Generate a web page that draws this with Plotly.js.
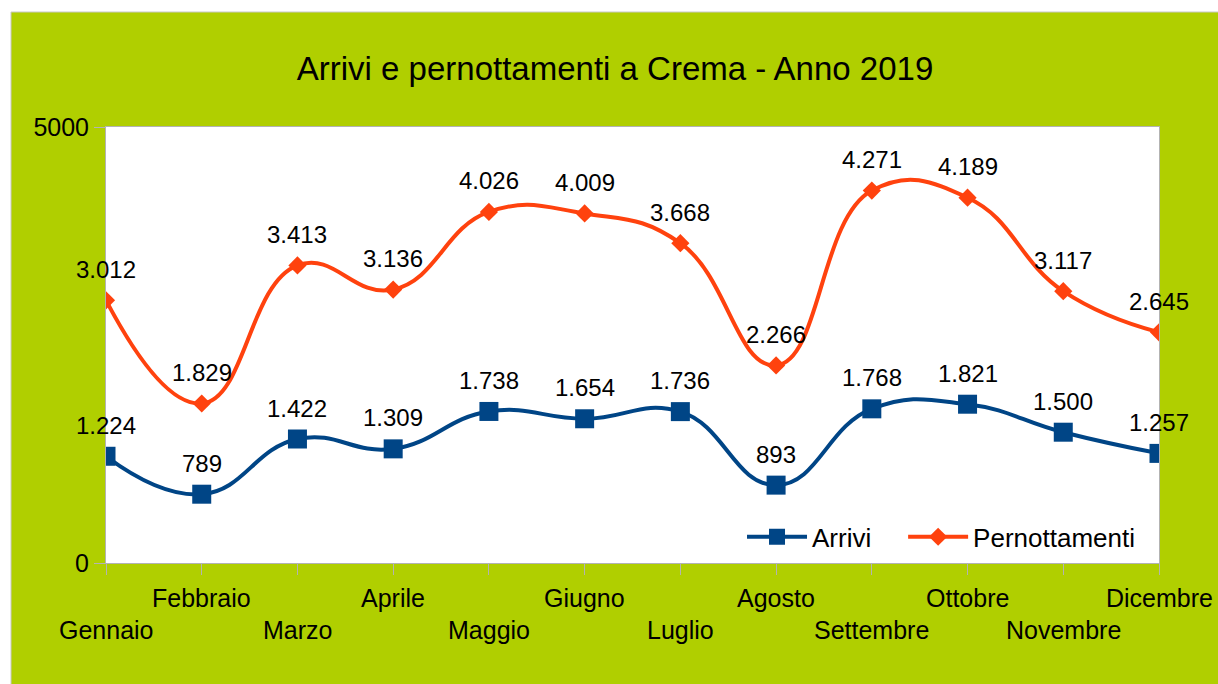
<!DOCTYPE html>
<html>
<head>
<meta charset="utf-8">
<script src="https://cdn.plot.ly/plotly-3.0.1.min.js"></script>
<style>html,body{margin:0;padding:0;background:#fff;}#chart{width:1218px;height:684px;}</style>
</head>
<body>
<div id="chart"></div>
<script>
const months = ["Gennaio","Febbraio","Marzo","Aprile","Maggio","Giugno","Luglio","Agosto","Settembre","Ottobre","Novembre","Dicembre"];
const arrivi = [1224, 789, 1422, 1309, 1738, 1654, 1736, 893, 1768, 1821, 1500, 1257];
const pernottamenti = [3012, 1829, 3413, 3136, 4026, 4009, 3668, 2266, 4271, 4189, 3117, 2645];
const yTicks = [0, 5000];

const FONT = "Liberation Sans, Arial, sans-serif";
const idx = months.map((m, i) => i);

function fmt(v) {
  return String(v).replace(/\B(?=(\d{3})+(?!\d))/g, ".");
}

const traces = [
  {
    x: idx, y: arrivi, name: "Arrivi", type: "scatter", mode: "lines+markers",
    legend: "legend",
    line: {color: "#004586", width: 4, shape: "spline", smoothing: 1.3},
    marker: {symbol: "square", size: 19, color: "#004586"}
  },
  {
    x: idx, y: pernottamenti, name: "Pernottamenti", type: "scatter", mode: "lines+markers",
    legend: "legend2",
    line: {color: "#ff420e", width: 4, shape: "spline", smoothing: 1.3},
    marker: {symbol: "diamond", size: 14, color: "#ff420e"}
  }
];

const annotations = [];
[arrivi, pernottamenti].forEach(series => {
  series.forEach((v, i) => {
    annotations.push({
      x: i, y: v, xref: "x", yref: "y", text: fmt(v), showarrow: false,
      yanchor: "middle", xanchor: "center", yshift: 31,
      font: {family: FONT, size: 24, color: "#000"}
    });
  });
});
months.forEach((m, i) => {
  annotations.push({
    x: i, y: 0, xref: "x", yref: "paper", text: m, showarrow: false,
    yanchor: "middle", xanchor: "center", yshift: (i % 2 === 0) ? -67 : -35,
    font: {family: FONT, size: 25, color: "#000"}
  });
});

const W = 1218, H = 684, L = 106, R = 59, T = 127, B = 121;
const pw = W - L - R, ph = H - T - B;
const shapes = [
  {
    type: "rect", xref: "paper", yref: "paper", layer: "below",
    x0: (11 - L) / pw, x1: (W + 5 - L) / pw,
    y0: (H - B - (H + 5)) / ph, y1: (H - B - 12) / ph,
    fillcolor: "#b0cf00", line: {color: "#c8c8c8", width: 1}
  },
  {
    type: "rect", xref: "paper", yref: "paper", layer: "below",
    x0: 0, x1: 1, y0: 0, y1: 1,
    fillcolor: "#ffffff", line: {width: 0}
  }
];

const legendBase = {
  orientation: "h", xanchor: "left", y: 0.06, yanchor: "middle",
  bgcolor: "rgba(0,0,0,0)", itemwidth: 60,
  font: {family: FONT, size: 26, color: "#000"}
};

const layout = {
  width: W, height: H,
  margin: {l: L, r: R, t: T, b: B},
  paper_bgcolor: "#ffffff",
  plot_bgcolor: "#ffffff",
  font: {family: FONT, size: 24, color: "#000"},
  title: {
    text: "Arrivi e pernottamenti a Crema - Anno 2019",
    font: {family: FONT, size: 33, color: "#000"},
    x: 0.5 + 6 / W, xref: "container", xanchor: "center",
    y: 1 - 68 / H, yref: "container", yanchor: "middle"
  },
  xaxis: {
    range: [0, 11], tickvals: idx, ticktext: months, showticklabels: false,
    showline: true, linecolor: "#b3b3b3", linewidth: 1, mirror: true,
    ticks: "outside", ticklen: 11, tickcolor: "#b3b3b3", tickwidth: 1,
    showgrid: false, zeroline: false, fixedrange: true
  },
  yaxis: {
    range: [0, 5000], tickvals: yTicks, ticktext: yTicks.map(String),
    showline: true, linecolor: "#b3b3b3", linewidth: 1, mirror: true,
    ticks: "outside", ticklen: 11, tickcolor: "#b3b3b3", tickwidth: 1,
    showgrid: false, zeroline: false, fixedrange: true,
    tickfont: {family: FONT, size: 25, color: "#000"}
  },
  showlegend: true,
  legend: Object.assign({}, legendBase, {x: 0.604}),
  legend2: Object.assign({}, legendBase, {x: 0.757}),
  annotations: annotations,
  shapes: shapes
};

Plotly.newPlot("chart", traces, layout, {displayModeBar: false, staticPlot: true});
</script>
</body>
</html>
